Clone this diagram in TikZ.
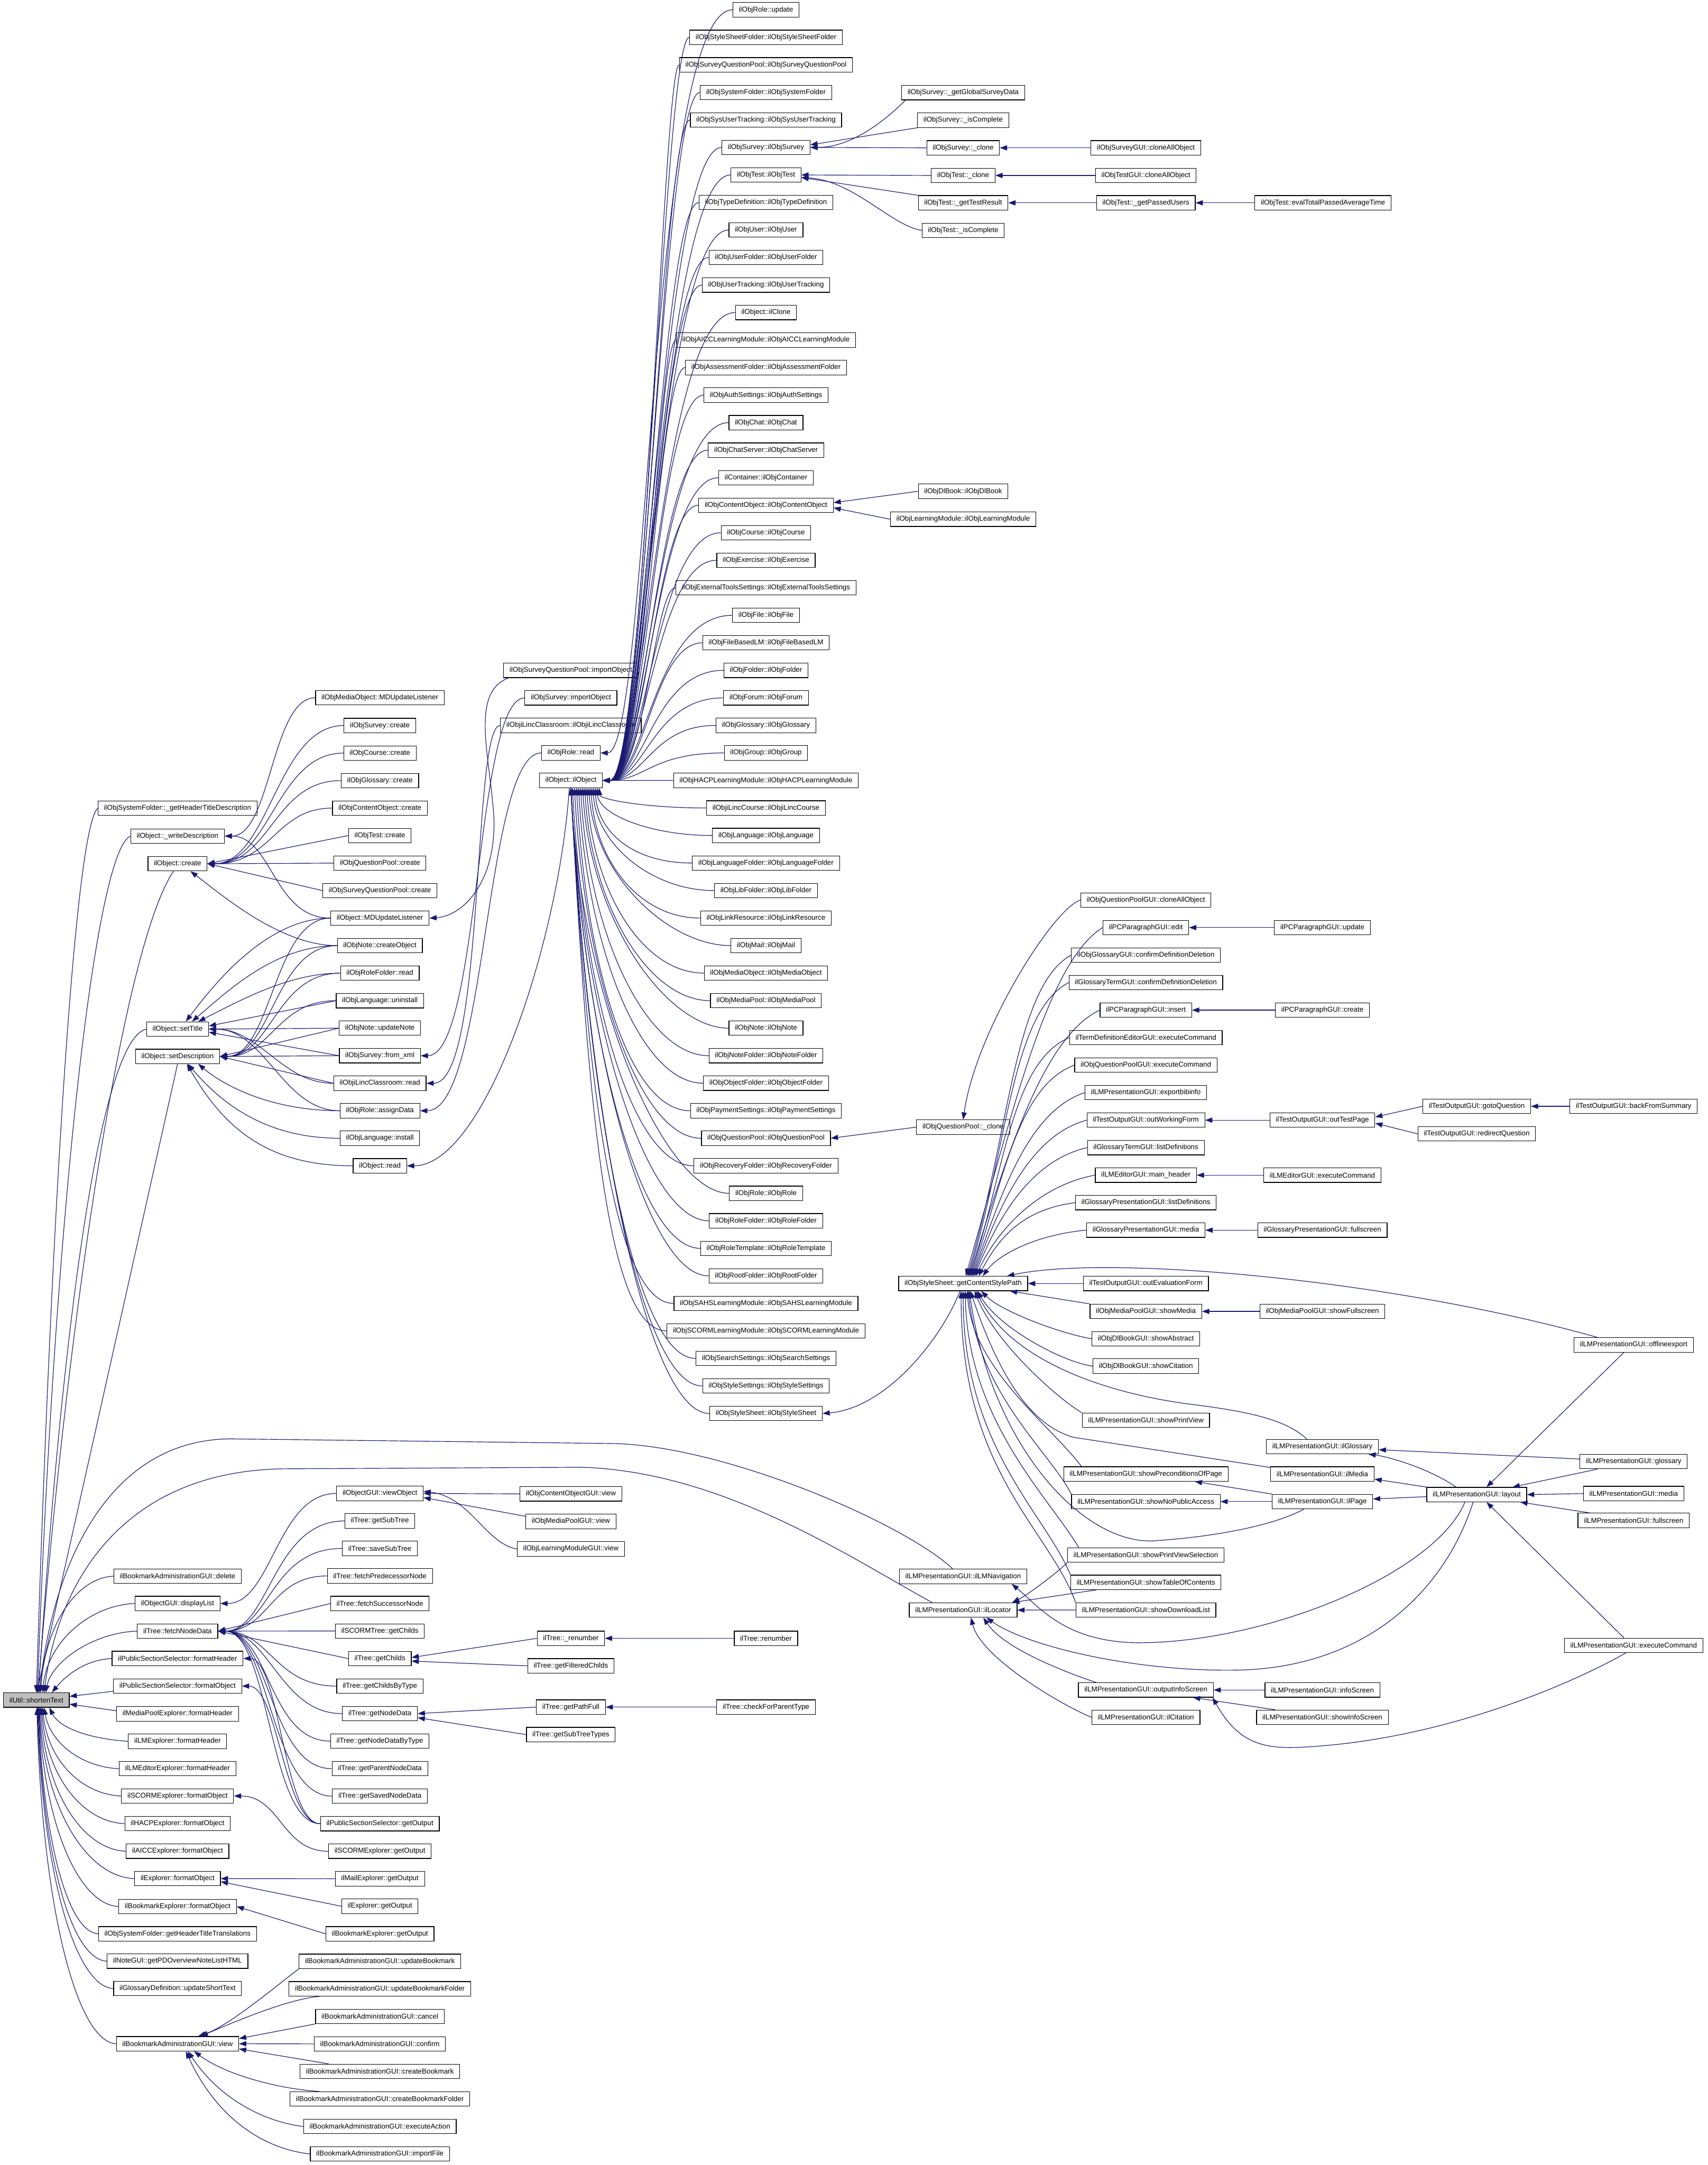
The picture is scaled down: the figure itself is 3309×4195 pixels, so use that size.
\documentclass[tikz,border=0pt]{standalone}
\usepackage{fontspec}
\newfontfamily\fnt{Liberation Sans}
\usetikzlibrary{arrows.meta}
\definecolor{edgec}{RGB}{25,25,112}
\definecolor{rootfill}{RGB}{191,191,191}
\begin{document}
\begin{tikzpicture}[x=1pt,y=-1pt,
  fn/.style={draw=black, line width=1.2pt, fill=white, font={\fnt\fontsize{13.7pt}{16pt}\selectfont}, inner xsep=11.5pt, inner ysep=0pt, minimum height=28pt},
  rootnode/.style={fn, fill=rootfill},
  e/.style={draw=edgec, line width=1.2pt, {Triangle[length=14pt,width=10pt]}-}]
\useasboundingbox (0,0) rectangle (3309,4195);
\fill[white] (0,0) rectangle (3309,4195);

% ---------- column 0
\node[rootnode] (root) at (70.5,3294) {ilUtil::shortenText};

% ---------- column 1
\node[fn] (ghtd) at (344,1566) {ilObjSystemFolder::\_getHeaderTitleDescription};
\node[fn] (wdesc) at (344,1620) {ilObject::\_writeDescription};
\node[fn] (ocreate) at (344,1673.6) {ilObject::create};
\node[fn] (settitle) at (344,1994) {ilObject::setTitle};
\node[fn] (setdesc) at (344,2047) {ilObject::setDescription};
\node[fn] (bmdel) at (344,3054) {ilBookmarkAdministrationGUI::delete};
\node[fn] (dlist) at (344,3107) {ilObjectGUI::displayList};
\node[fn] (fnd) at (344,3160.5) {ilTree::fetchNodeData};
\node[fn] (pssfh) at (344,3213.5) {ilPublicSectionSelector::formatHeader};
\node[fn] (pssfo) at (344,3267) {ilPublicSectionSelector::formatObject};
\node[fn] (mpefh) at (344,3320.8) {ilMediaPoolExplorer::formatHeader};
\node[fn] (lmefh) at (344,3374) {ilLMExplorer::formatHeader};
\node[fn] (lmeefh) at (344,3427) {ilLMEditorExplorer::formatHeader};
\node[fn] (scefo) at (344,3480) {ilSCORMExplorer::formatObject};
\node[fn] (hacpfo) at (344,3533.5) {ilHACPExplorer::formatObject};
\node[fn] (aiccfo) at (344,3587) {ilAICCExplorer::formatObject};
\node[fn] (expfo) at (344,3640) {ilExplorer::formatObject};
\node[fn] (bmefo) at (344,3694) {ilBookmarkExplorer::formatObject};
\node[fn] (sfhtt) at (344,3747) {ilObjSystemFolder::getHeaderTitleTranslations};
\node[fn] (notepd) at (344,3800) {ilNoteGUI::getPDOverviewNoteListHTML};
\node[fn] (glust) at (344,3853) {ilGlossaryDefinition::updateShortText};
\node[fn] (bmview) at (344,3960) {ilBookmarkAdministrationGUI::view};

% ---------- column 2
\node[fn] (mdml) at (736,1352) {ilObjMediaObject::MDUpdateListener};
\node[fn] (survc) at (736,1405.8) {ilObjSurvey::create};
\node[fn] (crsc) at (736,1459.2) {ilObjCourse::create};
\node[fn] (glsc) at (736,1512.5) {ilObjGlossary::create};
\node[fn] (coc) at (736,1565.8) {ilObjContentObject::create};
\node[fn] (tstc) at (736,1619) {ilObjTest::create};
\node[fn] (qpc) at (736,1672.4) {ilObjQuestionPool::create};
\node[fn] (sqpc) at (736,1725.7) {ilObjSurveyQuestionPool::create};
\node[fn] (oml) at (736,1779) {ilObject::MDUpdateListener};
\node[fn] (ncreate) at (736,1832.3) {ilObjNote::createObject};
\node[fn] (rfread) at (736,1885.6) {ilObjRoleFolder::read};
\node[fn] (langun) at (736,1939) {ilObjLanguage::uninstall};
\node[fn] (nupd) at (736,1992.2) {ilObjNote::updateNote};
\node[fn] (sfx) at (736,2045.6) {ilObjSurvey::from\_xml};
\node[fn] (ilcread) at (736,2099) {ilObjiLincClassroom::read};
\node[fn] (rassign) at (736,2152.2) {ilObjRole::assignData};
\node[fn] (langin) at (736,2205.5) {ilObjLanguage::install};
\node[fn] (oread) at (736,2258.9) {ilObject::read};

\node[fn] (viewobj) at (736,2893.7) {ilObjectGUI::viewObject};
\node[fn] (gst) at (736,2947) {ilTree::getSubTree};
\node[fn] (sst) at (736,3000.3) {ilTree::saveSubTree};
\node[fn] (fpn) at (736,3053.6) {ilTree::fetchPredecessorNode};
\node[fn] (fsn) at (736,3107) {ilTree::fetchSuccessorNode};
\node[fn] (scgc) at (736,3160.3) {ilSCORMTree::getChilds};
\node[fn] (gch) at (736,3213.6) {ilTree::getChilds};
\node[fn] (gcbt) at (736,3267) {ilTree::getChildsByType};
\node[fn] (gnd) at (736,3320.3) {ilTree::getNodeData};
\node[fn] (gndbt) at (736,3373.6) {ilTree::getNodeDataByType};
\node[fn] (gpnd) at (736,3427) {ilTree::getParentNodeData};
\node[fn] (gsnd) at (736,3480.3) {ilTree::getSavedNodeData};
\node[fn] (pssgo) at (736,3533.6) {ilPublicSectionSelector::getOutput};
\node[fn] (scego) at (736,3587) {ilSCORMExplorer::getOutput};
\node[fn] (mego) at (736,3640.3) {ilMailExplorer::getOutput};
\node[fn] (ego) at (736,3693.6) {ilExplorer::getOutput};
\node[fn] (bmego) at (736,3747) {ilBookmarkExplorer::getOutput};
\node[fn] (bmub) at (736,3800.3) {ilBookmarkAdministrationGUI::updateBookmark};
\node[fn] (bmubf) at (736,3853.6) {ilBookmarkAdministrationGUI::updateBookmarkFolder};
\node[fn] (bmcan) at (736,3907) {ilBookmarkAdministrationGUI::cancel};
\node[fn] (bmconf) at (736,3960.3) {ilBookmarkAdministrationGUI::confirm};
\node[fn] (bmcb) at (736,4013.6) {ilBookmarkAdministrationGUI::createBookmark};
\node[fn] (bmcbf) at (736,4067) {ilBookmarkAdministrationGUI::createBookmarkFolder};
\node[fn] (bmea) at (736,4120.3) {ilBookmarkAdministrationGUI::executeAction};
\node[fn] (bmif) at (736,4173.6) {ilBookmarkAdministrationGUI::importFile};

% ---------- column 3
\node[fn] (sqpimp) at (1106,1299) {ilObjSurveyQuestionPool::importObject};
\node[fn] (survimp) at (1106,1352.3) {ilObjSurvey::importObject};
\node[fn] (ilcctor) at (1106,1405.6) {ilObjiLincClassroom::ilObjiLincClassroom};
\node[fn] (rread) at (1106,1458.9) {ilObjRole::read};
\node[fn] (obj) at (1106,1512.2) {ilObject::ilObject};
\node[fn] (cogv) at (1106,2894.6) {ilObjContentObjectGUI::view};
\node[fn] (mpgv) at (1106,2948) {ilObjMediaPoolGUI::view};
\node[fn] (lmgv) at (1106,3001.3) {ilObjLearningModuleGUI::view};
\node[fn] (renumu) at (1106,3174.5) {ilTree::\_renumber};
\node[fn] (gfc) at (1106,3227.8) {ilTree::getFilteredChilds};
\node[fn] (gpf) at (1106,3307.7) {ilTree::getPathFull};
\node[fn] (gstt) at (1106,3361) {ilTree::getSubTreeTypes};

% ---------- column 4
\foreach \k/\t in {0/ilObjRole::update,
 1/ilObjStyleSheetFolder::ilObjStyleSheetFolder,
 2/ilObjSurveyQuestionPool::ilObjSurveyQuestionPool,
 3/ilObjSystemFolder::ilObjSystemFolder,
 4/ilObjSysUserTracking::ilObjSysUserTracking,
 5/ilObjSurvey::ilObjSurvey,
 6/ilObjTest::ilObjTest,
 7/ilObjTypeDefinition::ilObjTypeDefinition,
 8/ilObjUser::ilObjUser,
 9/ilObjUserFolder::ilObjUserFolder,
 10/ilObjUserTracking::ilObjUserTracking,
 11/ilObject::ilClone,
 12/ilObjAICCLearningModule::ilObjAICCLearningModule,
 13/ilObjAssessmentFolder::ilObjAssessmentFolder,
 14/ilObjAuthSettings::ilObjAuthSettings,
 15/ilObjChat::ilObjChat,
 16/ilObjChatServer::ilObjChatServer,
 17/ilContainer::ilObjContainer,
 18/ilObjContentObject::ilObjContentObject,
 19/ilObjCourse::ilObjCourse,
 20/ilObjExercise::ilObjExercise,
 21/ilObjExternalToolsSettings::ilObjExternalToolsSettings,
 22/ilObjFile::ilObjFile,
 23/ilObjFileBasedLM::ilObjFileBasedLM,
 24/ilObjFolder::ilObjFolder,
 25/ilObjForum::ilObjForum,
 26/ilObjGlossary::ilObjGlossary,
 27/ilObjGroup::ilObjGroup,
 28/ilObjHACPLearningModule::ilObjHACPLearningModule,
 29/ilObjiLincCourse::ilObjiLincCourse,
 30/ilObjLanguage::ilObjLanguage,
 31/ilObjLanguageFolder::ilObjLanguageFolder,
 32/ilObjLibFolder::ilObjLibFolder,
 33/ilObjLinkResource::ilObjLinkResource,
 34/ilObjMail::ilObjMail,
 35/ilObjMediaObject::ilObjMediaObject,
 36/ilObjMediaPool::ilObjMediaPool,
 37/ilObjNote::ilObjNote,
 38/ilObjNoteFolder::ilObjNoteFolder,
 39/ilObjObjectFolder::ilObjObjectFolder,
 40/ilObjPaymentSettings::ilObjPaymentSettings,
 41/ilObjQuestionPool::ilObjQuestionPool,
 42/ilObjRecoveryFolder::ilObjRecoveryFolder,
 43/ilObjRole::ilObjRole,
 44/ilObjRoleFolder::ilObjRoleFolder,
 45/ilObjRoleTemplate::ilObjRoleTemplate,
 46/ilObjRootFolder::ilObjRootFolder,
 47/ilObjSAHSLearningModule::ilObjSAHSLearningModule,
 48/ilObjSCORMLearningModule::ilObjSCORMLearningModule,
 49/ilObjSearchSettings::ilObjSearchSettings,
 50/ilObjStyleSettings::ilObjStyleSettings,
 51/ilObjStyleSheet::ilObjStyleSheet}{
  \pgfmathsetmacro\yy{19+53.33*\k}
  \node[fn] (k\k) at (1484,\yy) {\t};
}
\node[fn] (renum) at (1484,3174.5) {ilTree::renumber};
\node[fn] (cfpt) at (1484,3307.7) {ilTree::checkForParentType};

% ---------- column 5
\node[fn] (sgsd) at (1866,179.5) {ilObjSurvey::\_getGlobalSurveyData};
\node[fn] (sisc) at (1866,233) {ilObjSurvey::\_isComplete};
\node[fn] (sclone) at (1866,286.5) {ilObjSurvey::\_clone};
\node[fn] (tclone) at (1866,340) {ilObjTest::\_clone};
\node[fn] (tgtr) at (1866,393) {ilObjTest::\_getTestResult};
\node[fn] (tisc) at (1866,446.5) {ilObjTest::\_isComplete};
\node[fn] (dlbook) at (1866,952) {ilObjDlBook::ilObjDlBook};
\node[fn] (lmod) at (1866,1006) {ilObjLearningModule::ilObjLearningModule};
\node[fn] (qpclone) at (1866,2184) {ilObjQuestionPool::\_clone};
\node[fn] (gcsp) at (1866,2487) {ilObjStyleSheet::getContentStylePath};
\node[fn] (lmnav) at (1866,3054.6) {ilLMPresentationGUI::ilLMNavigation};
\node[fn] (lmloc) at (1866,3119.7) {ilLMPresentationGUI::ilLocator};

% ---------- column 6
\node[fn] (sguiclone) at (2220,286.5) {ilObjSurveyGUI::cloneAllObject};
\node[fn] (tguiclone) at (2220,340) {ilObjTestGUI::cloneAllObject};
\node[fn] (tgpu) at (2220,393) {ilObjTest::\_getPassedUsers};
\node[fn] (qpguiclone) at (2220,1744) {ilObjQuestionPoolGUI::cloneAllObject};
\node[fn] (pcedit) at (2220,1797.3) {ilPCParagraphGUI::edit};
\node[fn] (ogcdd) at (2220,1850.6) {ilObjGlossaryGUI::confirmDefinitionDeletion};
\node[fn] (gtcdd) at (2220,1903.9) {ilGlossaryTermGUI::confirmDefinitionDeletion};
\node[fn] (pcins) at (2220,1957.2) {ilPCParagraphGUI::insert};
\node[fn] (tdeec) at (2220,2010.5) {ilTermDefinitionEditorGUI::executeCommand};
\node[fn] (qpgec) at (2220,2063.8) {ilObjQuestionPoolGUI::executeCommand};
\node[fn] (lmpebi) at (2220,2117.1) {ilLMPresentationGUI::exportbibinfo};
\node[fn] (towf) at (2220,2170.4) {ilTestOutputGUI::outWorkingForm};
\node[fn] (gtld) at (2220,2223.7) {ilGlossaryTermGUI::listDefinitions};
\node[fn] (lmemh) at (2220,2277) {ilLMEditorGUI::main\_header};
\node[fn] (gpld) at (2220,2330.3) {ilGlossaryPresentationGUI::listDefinitions};
\node[fn] (gpmedia) at (2220,2383.6) {ilGlossaryPresentationGUI::media};
\node[fn] (toef) at (2220,2487) {ilTestOutputGUI::outEvaluationForm};
\node[fn] (mpsm) at (2220,2541) {ilObjMediaPoolGUI::showMedia};
\node[fn] (dlsa) at (2220,2594) {ilObjDlBookGUI::showAbstract};
\node[fn] (dlsc) at (2220,2647) {ilObjDlBookGUI::showCitation};
\node[fn] (lmspv) at (2220,2752) {ilLMPresentationGUI::showPrintView};
\node[fn] (lmspop) at (2220,2856) {ilLMPresentationGUI::showPreconditionsOfPage};
\node[fn] (lmsnpa) at (2220,2909.5) {ilLMPresentationGUI::showNoPublicAccess};
\node[fn] (lmspvs) at (2220,3013) {ilLMPresentationGUI::showPrintViewSelection};
\node[fn] (lmstoc) at (2220,3066) {ilLMPresentationGUI::showTableOfContents};
\node[fn] (lmsdl) at (2220,3119.5) {ilLMPresentationGUI::showDownloadList};
\node[fn] (lmois) at (2220,3274.6) {ilLMPresentationGUI::outputInfoScreen};
\node[fn] (lmcit) at (2220,3327.5) {ilLMPresentationGUI::ilCitation};

% ---------- column 7
\node[fn] (tetpat) at (2563,393) {ilObjTest::evalTotalPassedAverageTime};
\node[fn] (pcupd) at (2562,1797.3) {ilPCParagraphGUI::update};
\node[fn] (pccre) at (2562,1957.2) {ilPCParagraphGUI::create};
\node[fn] (totp) at (2562,2170.4) {ilTestOutputGUI::outTestPage};
\node[fn] (lmeec) at (2562,2277) {ilLMEditorGUI::executeCommand};
\node[fn] (gpfs) at (2562,2383.6) {ilGlossaryPresentationGUI::fullscreen};
\node[fn] (mpsfs) at (2562,2541) {ilObjMediaPoolGUI::showFullscreen};
\node[fn] (lmglo) at (2562,2803) {ilLMPresentationGUI::ilGlossary};
\node[fn] (lmmed) at (2562,2856) {ilLMPresentationGUI::ilMedia};
\node[fn] (lmpage) at (2562,2909.5) {ilLMPresentationGUI::ilPage};
\node[fn] (lmis) at (2562,3274.6) {ilLMPresentationGUI::infoScreen};
\node[fn] (lmsis) at (2562,3327.5) {ilLMPresentationGUI::showInfoScreen};

% ---------- column 8
\node[fn] (togq) at (2861,2143.6) {ilTestOutputGUI::gotoQuestion};
\node[fn] (torq) at (2861,2197) {ilTestOutputGUI::redirectQuestion};
\node[fn] (lmlay) at (2861,2896) {ilLMPresentationGUI::layout};

% ---------- column 9
\node[fn] (tobfs) at (3165,2143.6) {ilTestOutputGUI::backFromSummary};
\node[fn] (lmoff) at (3165,2606) {ilLMPresentationGUI::offlineexport};
\node[fn] (lmglossary) at (3165,2832) {ilLMPresentationGUI::glossary};
\node[fn] (lmmedia) at (3165,2894) {ilLMPresentationGUI::media};
\node[fn] (lmfs) at (3165,2946) {ilLMPresentationGUI::fullscreen};
\node[fn] (lmexec) at (3165,3188) {ilLMPresentationGUI::executeCommand};

% ================= edges
% root callers above
\draw[e] (root.north) .. controls +(28,-900) and +(-45,40) .. (ghtd.west);
\draw[e] ([xshift=2pt]root.north) .. controls +(32,-900) and +(-70,30) .. (wdesc.west);
\draw[e] ([xshift=3pt]root.north) .. controls +(55,-700) and +(-100,150) .. ([xshift=-8pt]ocreate.south);
\draw[e] ([xshift=4pt]root.north) .. controls +(45,-700) and +(-90,20) .. (settitle.west);
\draw[e] ([xshift=1pt]root.north) -- (setdesc.south);
\draw[e] ([xshift=6pt]root.north) .. controls (100,3050) and (200,2790) .. (446,2788) -- (1185,2797) .. controls (1400,2800) and (1750,2950) .. ([xshift=-20pt]lmnav.north);
\draw[e] ([xshift=15pt]root.north) .. controls (115,3050) and (250,2850) .. (550,2846) -- (1124,2843) .. controls (1400,2850) and (1650,3020) .. ([xshift=-60pt]lmloc.north);
\draw[e] ([xshift=8pt]root.north) .. controls +(10,-135) and +(-70,3) .. (bmdel.west);
\draw[e] ([xshift=12pt]root.north) .. controls +(10,-100) and +(-85,3) .. (dlist.west);
\draw[e] ([xshift=18pt]root.north) .. controls +(12,-60) and +(-85,3) .. (fnd.west);
\draw[e] ([xshift=30pt]root.north) .. controls +(25,-30) and +(-55,3) .. (pssfh.west);
\draw[e] ([yshift=7pt]root.east) -- ([yshift=-10pt]pssfo.west);
\draw[e] ([yshift=-8pt]root.east) -- ([yshift=6pt]mpefh.west);
% root callers below
\draw[e] ([xshift=25pt]root.south) .. controls +(20,40) and +(-75,-5) .. (lmefh.west);
\draw[e] ([xshift=15pt]root.south) .. controls +(12,70) and +(-70,-3) .. (lmeefh.west);
\draw[e] ([xshift=12pt]root.south) .. controls +(10,103) and +(-76,-3) .. (scefo.west);
\draw[e] ([xshift=10pt]root.south) .. controls +(10,135) and +(-80,-3) .. (hacpfo.west);
\draw[e] ([xshift=8pt]root.south) .. controls +(10,167) and +(-82,-3) .. (aiccfo.west);
\draw[e] ([xshift=6pt]root.south) .. controls +(10,200) and +(-90,-3) .. (expfo.west);
\draw[e] ([xshift=5pt]root.south) .. controls +(10,232) and +(-75,-3) .. (bmefo.west);
\draw[e] ([xshift=4pt]root.south) .. controls +(10,263) and +(-58,-3) .. (sfhtt.west);
\draw[e] ([xshift=3pt]root.south) .. controls +(10,295) and +(-68,-3) .. (notepd.west);
\draw[e] ([xshift=2pt]root.south) .. controls +(10,327) and +(-72,-3) .. (glust.west);
\draw[e] ([xshift=1pt]root.south) .. controls +(10,391) and +(-75,-3) .. (bmview.west);

% column 1 <- column 2 (upper)
\draw[e] (wdesc.east) .. controls +(90,0) and +(-85,0) .. (mdml.west);
\draw[e] (wdesc.east) .. controls +(92,0) and +(-110,0) .. (oml.west);
\draw[e] (ocreate.east) .. controls +(120,0) and +(-130,0) .. (survc.west);
\draw[e] (ocreate.east) .. controls +(122,0) and +(-130,0) .. (crsc.west);
\draw[e] (ocreate.east) .. controls +(124,0) and +(-130,0) .. (glsc.west);
\draw[e] (ocreate.east) .. controls +(126,0) and +(-110,0) .. (coc.west);
\draw[e] (ocreate.east) -- (tstc.west);
\draw[e] (ocreate.east) -- (qpc.west);
\draw[e] (ocreate.east) -- (sqpc.west);
\draw[e] ([xshift=25pt]ocreate.south) .. controls +(60,45) and +(-110,0) .. (ncreate.west);

\draw[e] ([xshift=16pt]settitle.north) .. controls +(60,-80) and +(-120,0) .. (oml.west);
\draw[e] ([xshift=28pt]settitle.north) .. controls +(70,-60) and +(-120,0) .. (ncreate.west);
\draw[e] ([xshift=40pt]settitle.north) .. controls +(80,-40) and +(-100,0) .. (rfread.west);
\draw[e] ([yshift=6pt]settitle.east) -- (langun.west);
\draw[e] (settitle.east) -- (nupd.west);
\draw[e] ([yshift=-6pt]settitle.east) -- (sfx.west);
\draw[e] (settitle.east) .. controls +(100,0) and +(-100,0) .. (ilcread.west);
\draw[e] (settitle.east) .. controls +(110,0) and +(-110,0) .. (rassign.west);

\draw[e] (setdesc.east) .. controls +(100,0) and +(-110,0) .. (oml.west);
\draw[e] (setdesc.east) .. controls +(100,0) and +(-120,0) .. (ncreate.west);
\draw[e] (setdesc.east) .. controls +(100,0) and +(-125,0) .. (rfread.west);
\draw[e] (setdesc.east) .. controls +(100,0) and +(-115,0) .. (langun.west);
\draw[e] (setdesc.east) -- (nupd.west);
\draw[e] (setdesc.east) -- (sfx.west);
\draw[e] (setdesc.east) -- (ilcread.west);
\draw[e] ([xshift=40pt]setdesc.south) .. controls +(60,50) and +(-120,0) .. (rassign.west);
\draw[e] ([xshift=20pt]setdesc.south) .. controls +(60,70) and +(-150,0) .. (langin.west);
\draw[e] ([xshift=18pt]setdesc.south) .. controls +(70,120) and +(-170,0) .. (oread.west);

% column 2 <- column 3 (upper)
\draw[e] (oml.east) .. controls (900,1775) and (970,1700) .. (955,1560) .. controls (945,1450) and (915,1340) .. ([xshift=10pt]sqpimp.south west);
\draw[e] (sfx.east) .. controls +(115,0) and +(-95,0) .. (survimp.west);
\draw[e] (ilcread.east) .. controls +(115,0) and +(-55,0) .. (ilcctor.west);
\draw[e] (rassign.east) .. controls +(130,0) and +(-110,0) .. (rread.west);
\draw[e] (oread.east) .. controls +(150,0) and +(-20,300) .. ([xshift=-3pt]obj.south);
\draw[e] (rread.east) .. controls (1258,1459) and (1258,19) .. (k0.west);

% ilObject::ilObject fan
\foreach \k in {1,...,27}{
  \pgfmathsetmacro\yy{19+53.33*\k}
  \pgfmathsetmacro\xx{1262+0.9*(27-\k)}
  \draw[e] (obj.east) .. controls (1250,1512.2) and (\xx,\yy) .. (k\k.west);
}
\draw[e] (obj.east) -- (k28.west);
\foreach \k in {29,...,51}{
  \pgfmathsetmacro\yy{19+53.33*\k}
  \pgfmathsetmacro\dd{\yy-1526}
  \pgfmathsetmacro\ss{max(0,55-4*(\k-29))}
  \pgfmathsetmacro\ca{0.03*\dd}
  \pgfmathsetmacro\cb{0.55*\dd}
  \draw[e] ([xshift=\ss pt]obj.south) .. controls +(\ca,\cb) and +(-120,0) .. (k\k.west);
}

% column 4 <- column 5 and beyond (top right)
\draw[e] (k5.east) .. controls +(80,0) and +(-40,40) .. ([xshift=8pt]sgsd.south west);
\draw[e] ([yshift=5pt]k5.east) -- (sisc.south west);
\draw[e] (k5.east) -- (sclone.west);
\draw[e] (k6.east) -- (tclone.west);
\draw[e] ([yshift=-5pt]k6.east) -- (tgtr.north west);
\draw[e] ([yshift=-5pt]k6.east) .. controls +(100,5) and +(-60,-10) .. (tisc.west);
\draw[e] (sclone.east) -- (sguiclone.west);
\draw[e] (tclone.east) -- (tguiclone.west);
\draw[e] (tgtr.east) -- (tgpu.west);
\draw[e] (tgpu.east) -- (tetpat.west);
\draw[e] ([yshift=5pt]k18.east) -- (dlbook.west);
\draw[e] ([yshift=-5pt]k18.east) -- (lmod.west);
\draw[e] (k41.east) -- (qpclone.west);
\draw[e] (qpclone.north) .. controls +(24,-170) and +(-53,16) .. (qpguiclone.west);
\draw[e] (k51.east) .. controls +(120,-10) and +(-40,100) .. ([xshift=-6pt]gcsp.south);

% getContentStylePath callers (upper)
\draw[e] ([xshift=5pt]gcsp.north) .. controls +(88,-304) and +(-110,68) .. (pcedit.west);
\draw[e] ([xshift=8pt]gcsp.north) .. controls +(82,-280) and +(-110,62) .. (ogcdd.west);
\draw[e] ([xshift=10pt]gcsp.north) .. controls +(77,-256) and +(-110,57) .. (gtcdd.west);
\draw[e] ([xshift=12pt]gcsp.north) .. controls +(72,-232) and +(-110,52) .. (pcins.west);
\draw[e] ([xshift=14pt]gcsp.north) .. controls +(66,-208) and +(-110,46) .. (tdeec.west);
\draw[e] ([xshift=16pt]gcsp.north) .. controls +(61,-184) and +(-110,41) .. (qpgec.west);
\draw[e] ([xshift=18pt]gcsp.north) .. controls +(56,-160) and +(-110,36) .. (lmpebi.west);
\draw[e] ([xshift=20pt]gcsp.north) .. controls +(50,-136) and +(-110,30) .. (towf.west);
\draw[e] ([xshift=22pt]gcsp.north) .. controls +(45,-112) and +(-110,25) .. (gtld.west);
\draw[e] ([xshift=25pt]gcsp.north) .. controls +(40,-88) and +(-110,20) .. (lmemh.west);
\draw[e] ([xshift=30pt]gcsp.north) .. controls +(34,-64) and +(-110,14) .. (gpld.west);
\draw[e] ([xshift=38pt]gcsp.north) .. controls +(29,-40) and +(-100,9) .. (gpmedia.west);
\draw[e] ([xshift=85pt]gcsp.north) .. controls (2150,2430) and (2700,2480) .. ([xshift=-70pt]lmoff.north);
% getContentStylePath callers (lower)
\draw[e] (gcsp.east) -- (toef.west);
\draw[e] ([xshift=-35pt]gcsp.south east) -- (mpsm.north west);
\draw[e] ([xshift=35pt]gcsp.south) .. controls +(40,40) and +(-60,-10) .. (dlsa.west);
\draw[e] ([xshift=28pt]gcsp.south) .. controls +(40,70) and +(-60,-8) .. (dlsc.west);
\draw[e] ([xshift=22pt]gcsp.south) .. controls +(40,100) and +(-50,-30) .. (lmspv.north west);
\draw[e] ([xshift=25pt]gcsp.south) .. controls (1960,2640) and (2150,2700) .. (2300,2720) .. controls (2420,2735) and (2490,2750) .. ([xshift=-30pt]lmglo.north);
\draw[e] ([xshift=14pt]gcsp.south) .. controls (1930,2650) and (1990,2760) .. (2080,2785) -- ([yshift=-2pt]lmmed.north west);
\draw[e] ([xshift=8pt]gcsp.south) .. controls +(10,150) and +(-60,-80) .. ([xshift=35pt]lmspop.north west);
\draw[e] ([xshift=10pt]gcsp.south) .. controls +(20,200) and +(-40,-80) .. (lmsnpa.north west);
\draw[e] ([xshift=12pt]gcsp.south) .. controls (1920,2800) and (2100,3000) .. (2244,2985) .. controls (2380,2975) and (2480,2950) .. ([xshift=-36pt]lmpage.south);
\draw[e] ([xshift=4pt]gcsp.south) .. controls +(5,250) and +(-60,-100) .. ([xshift=22pt]lmspvs.north west);
\draw[e] (gcsp.south) .. controls +(0,300) and +(-50,-120) .. (lmstoc.north west);
\draw[e] ([xshift=-4pt]gcsp.south) .. controls +(0,350) and +(-50,-140) .. (lmsdl.north west);

% right side chains
\draw[e] (pcedit.east) -- (pcupd.west);
\draw[e] (pcins.east) -- (pccre.west);
\draw[e] (towf.east) -- (totp.west);
\draw[e] ([yshift=6pt]totp.east) -- (togq.west);
\draw[e] ([yshift=-6pt]totp.east) -- (torq.west);
\draw[e] (togq.east) -- (tobfs.west);
\draw[e] (lmemh.east) -- (lmeec.west);
\draw[e] (gpmedia.east) -- (gpfs.west);
\draw[e] (mpsm.east) -- (mpsfs.west);

% LM presentation
\draw[e] ([xshift=-28pt]lmlay.north east) -- ([xshift=-70pt]lmglossary.south);
\draw[e] (lmlay.east) -- (lmmedia.west);
\draw[e] ([xshift=-13pt]lmlay.south east) -- ([xshift=-85pt]lmfs.north);
\draw[e] ([xshift=19pt]lmlay.north) -- ([xshift=-19pt]lmoff.south);
\draw[e] ([xshift=19pt]lmlay.south) -- ([xshift=-19pt]lmexec.north);
\draw[e] ([yshift=-6pt]lmglo.east) -- ([yshift=5pt]lmglossary.west);
\draw[e] ([xshift=-20pt]lmglo.south east) .. controls +(40,5) and +(-50,-35) .. ([xshift=-40pt]lmlay.north);
\draw[e] ([yshift=-10pt]lmmed.east) -- (lmlay.north west);
\draw[e] ([yshift=5pt]lmpage.east) -- ([yshift=-4pt]lmlay.west);
\draw[e] ([xshift=-65pt]lmspop.south east) -- (lmpage.north west);
\draw[e] (lmsnpa.east) -- (lmpage.west);
\draw[e] ([xshift=-30pt]lmnav.south east) .. controls (2010,3110) and (2060,3180) .. (2200,3183) .. controls (2450,3185) and (2780,3050) .. ([xshift=-23pt]lmlay.south);
\draw[e] ([xshift=-60pt]lmloc.south east) .. controls (1990,3190) and (2200,3240) .. (2400,3236) .. controls (2650,3230) and (2800,3080) .. ([xshift=-7pt]lmlay.south);
\draw[e] ([xshift=-10pt]lmloc.north east) .. controls +(30,-15) and +(-20,20) .. (lmspvs.south west);
\draw[e] ([xshift=-10pt]lmloc.north east) -- ([xshift=50pt]lmstoc.south west);
\draw[e] (lmloc.east) -- (lmsdl.west);
\draw[e] ([xshift=-66pt]lmloc.south east) .. controls +(40,60) and +(-60,-20) .. ([xshift=35pt]lmois.north west);
\draw[e] ([xshift=15pt]lmloc.south) .. controls +(20,80) and +(-50,-20) .. (lmcit.west);
\draw[e] (lmois.east) -- (lmis.west);
\draw[e] ([xshift=-40pt]lmois.south east) -- ([xshift=37pt]lmsis.north west);
\draw[e] ([xshift=-2pt]lmois.south east) .. controls (2400,3380) and (2450,3390) .. (2530,3385) .. controls (2800,3370) and (3050,3260) .. ([xshift=-15pt]lmexec.south);

% lower left area
\draw[e] (dlist.east) .. controls +(100,0) and +(-115,0) .. (viewobj.west);
\draw[e] (fnd.east) .. controls +(100,0) and +(-140,0) .. (gst.west);
\draw[e] (fnd.east) .. controls +(100,0) and +(-140,0) .. (sst.west);
\draw[e] (fnd.east) .. controls +(100,0) and +(-110,0) .. (fpn.west);
\draw[e] (fnd.east) -- (fsn.west);
\draw[e] (fnd.east) -- (scgc.west);
\draw[e] (fnd.east) -- (gch.west);
\draw[e] (fnd.east) .. controls +(100,0) and +(-120,0) .. (gcbt.west);
\draw[e] (fnd.east) .. controls +(100,0) and +(-120,0) .. (gnd.west);
\draw[e] (fnd.east) .. controls +(100,0) and +(-120,0) .. (gndbt.west);
\draw[e] (fnd.east) .. controls +(100,0) and +(-120,0) .. (gpnd.west);
\draw[e] (fnd.east) .. controls +(100,0) and +(-120,0) .. (gsnd.west);
\draw[e] (fnd.east) .. controls +(100,0) and +(-100,0) .. (pssgo.west);
\draw[e] (pssfh.east) .. controls +(70,0) and +(-70,0) .. (pssgo.west);
\draw[e] (pssfo.east) .. controls +(70,0) and +(-70,0) .. (pssgo.west);
\draw[e] (scefo.east) .. controls +(90,0) and +(-90,0) .. (scego.west);
\draw[e] (expfo.east) -- (mego.west);
\draw[e] ([yshift=-6pt]expfo.east) -- (ego.west);
\draw[e] (bmefo.east) -- (bmego.west);

\draw[e] ([xshift=40pt]bmview.north) .. controls +(60,-20) and +(-40,30) .. (bmub.south west);
\draw[e] ([xshift=45pt]bmview.north) .. controls +(70,-30) and +(-60,5) .. ([xshift=60pt]bmubf.south west);
\draw[e] ([yshift=10pt]bmview.east) -- (bmcan.south west);
\draw[e] (bmview.east) -- (bmconf.west);
\draw[e] ([yshift=-10pt]bmview.east) -- ([xshift=56pt]bmcb.north west);
\draw[e] ([xshift=32pt]bmview.south) .. controls +(60,45) and +(-80,-5) .. ([xshift=57pt]bmcbf.north west);
\draw[e] ([xshift=20pt]bmview.south) .. controls +(60,90) and +(-80,-10) .. (bmea.west);
\draw[e] ([xshift=16pt]bmview.south) .. controls +(60,130) and +(-90,-10) .. (bmif.west);

\draw[e] (viewobj.east) -- (cogv.west);
\draw[e] ([yshift=-8pt]viewobj.east) -- ([yshift=10pt]mpgv.west);
\draw[e] ([yshift=4pt]viewobj.east) .. controls +(90,10) and +(-60,-10) .. (lmgv.west);
\draw[e] ([yshift=2pt]gch.east) -- (renumu.west);
\draw[e] ([yshift=-5pt]gch.east) -- (gfc.west);
\draw[e] (renumu.east) -- (renum.west);
\draw[e] (gnd.east) -- (gpf.west);
\draw[e] ([yshift=-8pt]gnd.east) -- (gstt.west);
\draw[e] (gpf.east) -- (cfpt.west);
\end{tikzpicture}
\end{document}
